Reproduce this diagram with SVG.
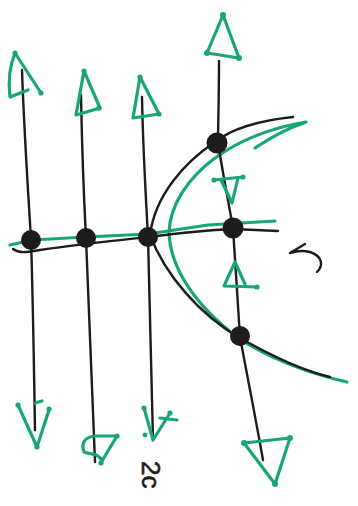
<svg xmlns="http://www.w3.org/2000/svg" width="358" height="506" viewBox="0 0 358 506">
<style>
.bk{fill:none;stroke:#1c1c1c;stroke-width:2.4;stroke-linecap:round;stroke-linejoin:round}
.gr{fill:none;stroke:#17a57a;stroke-width:3.2;stroke-linecap:round;stroke-linejoin:round}
.dot{fill:#17a57a}
.node{fill:#1c1c1c;stroke:#1c1c1c;stroke-width:2}
.txt{font-family:"Liberation Sans",Arial,sans-serif;font-size:26px;fill:#1c1c1c;stroke:#1c1c1c;stroke-width:0.6}
</style>
<rect width="358" height="506" fill="#ffffff"/>
<g id="connectors">
  <path class="gr" d="M10,245 L32,240 L86,237 L148,234 L208,225 L275,221"/>
  <path class="gr" d="M306,122 C270,128 240,140 215,158 C188,178 170,205 169,232 C170,268 195,305 238,338 C272,360 312,374 347,382"/>
  <path class="gr" d="M255,148 C270,138 288,128 304,123"/>
  <path class="bk" d="M22,70 C24,130 28,190 31,239 C33,300 34,370 35,430"/>
  <path class="bk" d="M81,95 C82,150 84,200 86,238 C89,320 92,400 95,462"/>
  <path class="bk" d="M142,97 C143,150 146,200 148,237 C150,320 152,390 153,440"/>
  <path class="bk" d="M219,61 C219,100 218,125 218,143 C224,180 229,205 233,228 C236,270 238,310 240,337 C248,380 256,420 263,460"/>
  <path class="bk" d="M13,249 C20,254 28,252 40,250 C80,244 120,240 148,237 C180,233 210,230 233,229 L278,231"/>
  <path class="bk" d="M293,117 C255,121 230,130 215,142 C185,162 155,195 150,235 C165,275 200,315 240,338 C270,355 300,370 330,377"/>
  <path class="bk" d="M317,272 C324,265 322,256 310,252 C302,250 296,251 290,253 L305,244"/>
</g>
<g id="arrow-top-1">
  <path class="gr" d="M28,90 L10,97 C8,80 10,65 15,53 L41,93"/>
  <circle class="dot" cx="15" cy="53" r="2.6"/><circle class="dot" cx="41" cy="93" r="2.6"/>
</g>
<g id="arrow-top-2">
  <path class="gr" d="M84,71 L76,115 L100,108 Z"/>
  <circle class="dot" cx="84" cy="71" r="2.6"/><circle class="dot" cx="99" cy="108" r="2.6"/>
</g>
<g id="arrow-top-3">
  <path class="gr" d="M140,77 L133,118 L159,114 Z"/>
  <circle class="dot" cx="140" cy="77" r="2.6"/><circle class="dot" cx="159" cy="114" r="2.6"/>
</g>
<g id="arrow-top-4">
  <path class="gr" d="M223,15 L207,53 L239,58 Z"/>
  <circle class="dot" cx="223" cy="15" r="3"/><circle class="dot" cx="207" cy="53" r="3"/><circle class="dot" cx="239" cy="58" r="3"/>
</g>
<g id="arrow-mid-down">
  <path class="gr" d="M214,180 L243,177 M221,180 L232,203 L238,178"/>
  <circle class="dot" cx="243" cy="177" r="2.6"/><circle class="dot" cx="214" cy="180" r="2.6"/>
</g>
<g id="arrow-mid-up">
  <path class="gr" d="M235,262 L224,286 L257,287 M235,262 L245,284"/>
  <circle class="dot" cx="257" cy="287" r="2.6"/>
</g>
<g id="arrow-bot-1">
  <path class="gr" d="M18,405 L37,447 L49,410 M35,403 L42,401"/>
  <circle class="dot" cx="18" cy="405" r="2.6"/><circle class="dot" cx="49" cy="409" r="2.6"/><circle class="dot" cx="37" cy="447" r="2.6"/>
</g>
<g id="arrow-bot-2">
  <path class="gr" d="M95,436 C84,437 81,444 84,452 C90,455 98,452 102,461 L117,436 Z"/>
  <circle class="dot" cx="117" cy="436" r="2.6"/><circle class="dot" cx="101" cy="463" r="2.6"/>
</g>
<g id="arrow-bot-3">
  <path class="gr" d="M144,408 L153,440 L170,413 M160,418 L177,420"/>
  <circle class="dot" cx="144" cy="408" r="2.6"/><circle class="dot" cx="170" cy="413" r="2.6"/><circle class="dot" cx="145" cy="435" r="2.4"/>
</g>
<g id="arrow-bot-4">
  <path class="gr" d="M244,443 L275,484 L290,438 Z"/>
  <circle class="dot" cx="244" cy="443" r="3"/><circle class="dot" cx="290" cy="438" r="3"/><circle class="dot" cx="275" cy="484" r="3"/>
</g>
<g id="node-1"><circle class="node" cx="31" cy="240" r="9"/></g>
<g id="node-2"><circle class="node" cx="86" cy="238" r="9"/></g>
<g id="node-3"><circle class="node" cx="148" cy="237" r="9"/></g>
<g id="node-4"><circle class="node" cx="233" cy="228" r="9.5"/></g>
<g id="node-5"><circle class="node" cx="217" cy="143" r="9.5"/></g>
<g id="node-6"><circle class="node" cx="240" cy="336" r="9"/></g>
<text class="txt" transform="translate(142,461) rotate(90)">2c</text>
</svg>
